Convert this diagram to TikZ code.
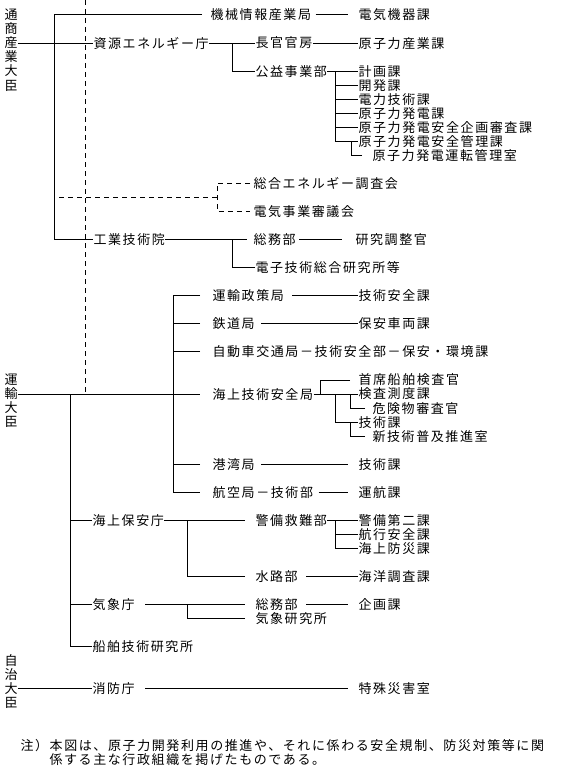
\documentclass[tikz,border=0pt]{standalone}
\usepackage{fontspec}
\newfontfamily\jpf[LetterSpace=12.3]{Noto Sans CJK JP}

\begin{document}
\begin{tikzpicture}[
    x=1bp, y=-14.04bp, line width=1bp,
    lbl/.style={anchor=west,inner sep=0pt,
                font=\jpf\fontsize{13bp}{14.04bp}\selectfont},
    vlbl/.style={lbl,anchor=center,align=center},
    dsh/.style={dash pattern=on 5bp off 4bp},
  ]
  \fill[white] (0,-1.0684) rectangle (561,53.775);
  \useasboundingbox (0,-1.0684) rectangle (561,53.775);

  % ministers, written top to bottom
  \node[vlbl] (tsusan) at (11,2.5)  {通\\商\\産\\業\\大\\臣};
  \node[vlbl] (unyu)   at (11,27.5) {運\\輸\\大\\臣};
  \node[vlbl] (jichi)  at (11,47.5) {自\\治\\大\\臣};

  % --- MITI ---
  \node[lbl] (kikai)    at (210,0)  {機械情報産業局};
  \node[lbl] (denki)    at (358,0)  {電気機器課};
  \node[lbl] (shigen)   at (93,2)   {資源エネルギー庁};
  \node[lbl] (chokan)   at (255,2)  {長官官房};
  \node[lbl] (genshi)   at (358,2)  {原子力産業課};
  \node[lbl] (koeki)    at (255,4)  {公益事業部};
  \node[lbl] (keikaku)  at (358,4)  {計画課};
  \node[lbl] (kaihatsu) at (358,5)  {開発課};
  \node[lbl] (denryoku) at (358,6)  {電力技術課};
  \node[lbl] (hatsuden) at (358,7)  {原子力発電課};
  \node[lbl] (kikaku)   at (358,8)  {原子力発電安全企画審査課};
  \node[lbl] (kanri)    at (358,9)  {原子力発電安全管理課};
  \node[lbl] (unten)    at (372,10) {原子力発電運転管理室};
  \node[lbl] (sogo)     at (253,12) {総合エネルギー調査会};
  \node[lbl] (shingi)   at (253,14) {電気事業審議会};
  \node[lbl] (kogyo)    at (93,16)  {工業技術院};
  \node[lbl] (somu1)    at (253,16) {総務部};
  \node[lbl] (kenkyu)   at (355,16) {研究調整官};
  \node[lbl] (denshi)   at (255,18) {電子技術総合研究所等};

  % --- Transport ---
  \node[lbl] (seisaku)  at (212,20) {運輸政策局};
  \node[lbl] (gijutsu)  at (358,20) {技術安全課};
  \node[lbl] (tetsudo)  at (212,22) {鉄道局};
  \node[lbl] (hoan)     at (358,22) {保安車両課};
  \node[lbl] (jidosha)  at (212,24) {自動車交通局－技術安全部－保安・環境課};
  \node[lbl] (kaigi)    at (212,27) {海上技術安全局};
  \node[lbl] (shuseki)  at (358,26) {首席船舶検査官};
  \node[lbl] (kensa)    at (358,27) {検査測度課};
  \node[lbl] (kiken)    at (372,28) {危険物審査官};
  \node[lbl] (gika)     at (358,29) {技術課};
  \node[lbl] (shingij)  at (372,30) {新技術普及推進室};
  \node[lbl] (kowan)    at (212,32) {港湾局};
  \node[lbl] (kowangi)  at (358,32) {技術課};
  \node[lbl] (koku)     at (212,34) {航空局－技術部};
  \node[lbl] (unko)     at (358,34) {運航課};
  \node[lbl] (hoancho)  at (92,36)  {海上保安庁};
  \node[lbl] (keibi)    at (255,36) {警備救難部};
  \node[lbl] (daini)    at (358,36) {警備第二課};
  \node[lbl] (koko)     at (358,37) {航行安全課};
  \node[lbl] (bosai)    at (358,38) {海上防災課};
  \node[lbl] (suiro)    at (255,40) {水路部};
  \node[lbl] (kaiyo)    at (358,40) {海洋調査課};
  \node[lbl] (kisho)    at (92,42)  {気象庁};
  \node[lbl] (somu2)    at (255,42) {総務部};
  \node[lbl] (kikakuka) at (358,42) {企画課};
  \node[lbl] (kishoken) at (255,43) {気象研究所};
  \node[lbl] (senpaku)  at (92,45)  {船舶技術研究所};

  % --- Home affairs ---
  \node[lbl] (shobo)    at (92,48)  {消防庁};
  \node[lbl] (tokushu)  at (358,48) {特殊災害室};

  % note
  \node[lbl] (note1) at (20,52) {注）本図は、原子力開発利用の推進や、それに係わる安全規制、防災対策等に関};
  \node[lbl] (note2) at (49,53) {係する主な行政組織を掲げたものである。};

  % MITI lines
  \draw (tsusan.east |- shigen) -- (shigen.west);
  \draw ([xshift=-8bp]kikai.west) -| ([xshift=-38bp]kogyo.west) -- (kogyo.west);
  \draw[shorten <=4bp,shorten >=10bp] (kikai.east) -- (denki.west);
  \draw (shigen.east) -- (chokan.west);
  \draw ([xshift=-23bp]chokan.west) |- (koeki.west);
  \draw (chokan.east) -- (genshi.west);
  \draw (koeki.east) -- (keikaku.west);
  \draw ([xshift=-23bp]keikaku.west) |- (kanri.west);
  \foreach \n in {kaihatsu,denryoku,hatsuden,kikaku}
    \draw (\n.west) -- ++(-23,0);
  \draw ([xshift=-10bp]unten.west) -| ([xshift=-7bp]kanri.west);

  % councils (dashed)
  \coordinate (dtop) at (85,-1.0684);
  \draw[dsh] (dtop) -- (dtop |- kaigi);
  \draw[dsh] ([xshift=-3bp]sogo.west) -- ++(-33,0) |- ([xshift=-3bp]shingi.west);
  \draw[dsh] ([xshift=-36bp]sogo.west) ++(0,1) -- ++(-158,0);

  \draw (kogyo.east) -- ([xshift=-6bp]somu1.west);
  \draw (denshi.west) -| ([xshift=-21bp]somu1.west);
  \draw[shorten <=3bp,shorten >=13bp] (somu1.east) -- (kenkyu.west);

  % Transport lines
  \draw (unyu.east |- kaigi) -- ([xshift=-12bp]kaigi.west);
  \draw ([xshift=-12bp]seisaku.west) -- ++(-27,0) |- ([xshift=-12bp]koku.west);
  \foreach \n in {tetsudo,jidosha,kowan}
    \draw ([xshift=-12bp]\n.west) -- ++(-27,0);
  \draw[shorten <=8bp] (seisaku.east) -- (gijutsu.west);
  \draw[shorten <=6bp] (tetsudo.east) -- (hoan.west);
  \draw (kaigi.east) -- (kensa.west);
  \draw ([xshift=-8bp]shuseki.west) -| ([xshift=-38bp]kensa.west);
  \draw (gika.west) -| ([xshift=-23bp]kensa.west);
  \draw ([xshift=-7bp]kiken.west) -| ([xshift=-8bp]kensa.west);
  \draw ([xshift=-7bp]shingij.west) -| ([xshift=-8bp]gika.west);
  \draw[shorten <=6bp,shorten >=10bp] (kowan.east) -- (kowangi.west);
  \draw[shorten <=5bp,shorten >=10bp] (koku.east) -- (unko.west);

  \coordinate (ujct) at (70,27);
  \draw (senpaku.west) -| (ujct);
  \draw (hoancho.west) -- ++(-22,0);
  \draw (kisho.west) -- ++(-22,0);
  \draw[shorten >=10bp] (hoancho.east) -- (keibi.west);
  \draw ([xshift=-10bp]suiro.west) -| ([xshift=-67bp]keibi.west);
  \draw (keibi.east) -- (daini.west);
  \draw (bosai.west) -| ([xshift=-23bp]daini.west);
  \draw (koko.west) -- ++(-23,0);
  \draw[shorten <=8bp] (suiro.east) -- (kaiyo.west);
  \draw[shorten <=10bp,shorten >=10bp] (kisho.east) -- (somu2.west);
  \draw ([xshift=-10bp]kishoken.west) -| ([xshift=-67bp]somu2.west);
  \draw[shorten <=8bp,shorten >=10bp] (somu2.east) -- (kikakuka.west);

  % Home affairs lines
  \draw (jichi.east |- shobo) -- (shobo.west);
  \draw[shorten <=10bp,shorten >=10bp] (shobo.east) -- (tokushu.west);

\end{tikzpicture}
\end{document}
